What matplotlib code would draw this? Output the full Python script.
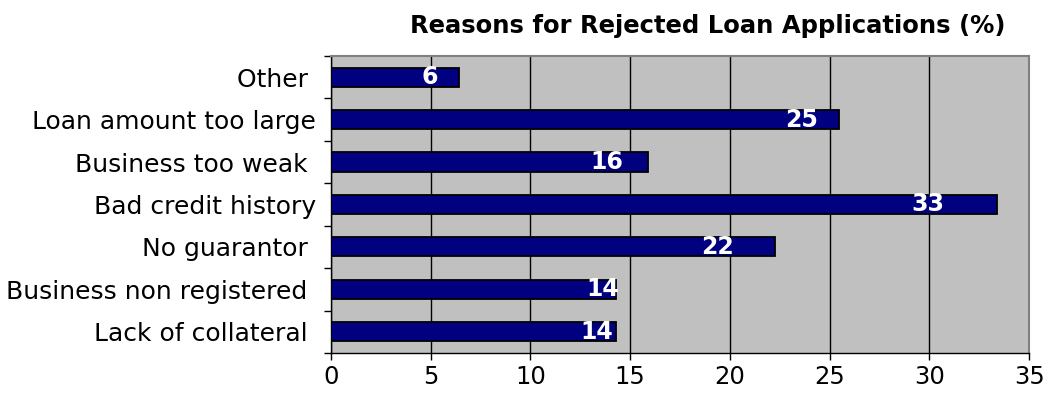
import matplotlib
matplotlib.use("Agg")
import matplotlib.pyplot as plt
import numpy as np

# ── Data ──────────────────────────────────────────────────────────────────────
reasons = [
    "Lack of collateral ",
    "Business non registered ",
    "No guarantor ",
    "Bad credit history",
    "Business too weak ",
    "Loan amount too large",
    "Other ",
]
percent = [14.3, 14.3, 22.25, 33.4, 15.9, 25.45, 6.4]

# label nudges (points, relative to bar end)
label_shift = [-14, -10, -41, -50, -30, -27, -21]

TITLE = "Reasons for Rejected Loan Applications (%)"

# ── Plot ──────────────────────────────────────────────────────────────────────
plt.rcParams["font.family"] = "DejaVu Sans"

fig = plt.figure(figsize=(10.49, 3.97), dpi=100, facecolor="white")
ax = fig.add_axes([0.3155, 0.111, 0.6655, 0.748])
ax.set_facecolor("#C0C0C0")

y = np.arange(len(reasons))
ax.barh(y, percent, height=0.45, color="#000080", edgecolor="black",
        linewidth=1.3, zorder=3)

for yi, v, dx in zip(y, percent, label_shift):
    ax.annotate(f"{v:.0f}", xy=(v, yi), xytext=(dx, 0),
                textcoords="offset points", ha="center", va="center",
                color="white", fontsize=17, fontweight="bold", zorder=4)

ax.set_xlim(0, 35)
ax.set_ylim(-0.5, len(reasons) - 0.5)
ax.set_xticks(np.arange(0, 36, 5))
ax.tick_params(axis="x", labelsize=17.5, length=5, width=1, direction="out",
               pad=4, colors="black")

# category ticks sit between the bars
ax.set_yticks(np.arange(-0.5, len(reasons), 1))
ax.set_yticklabels([])
ax.set_yticks(y, minor=True)
ax.set_yticklabels(reasons, minor=True, fontsize=18)
ax.tick_params(axis="y", which="major", length=5, width=1, direction="out")
ax.tick_params(axis="y", which="minor", length=0, pad=11)

ax.grid(axis="x", color="black", lw=1, zorder=1)
ax.set_axisbelow(True)

for side in ("left", "bottom"):
    ax.spines[side].set_color("black")
    ax.spines[side].set_linewidth(1)
for side in ("top", "right"):
    ax.spines[side].set_color("#808080")
    ax.spines[side].set_linewidth(1.5)

fig.text(0.675, 0.935, TITLE, ha="center", va="center",
         fontsize=17.5, fontweight="bold")

fig.savefig("out.png", dpi=100, facecolor="white")
